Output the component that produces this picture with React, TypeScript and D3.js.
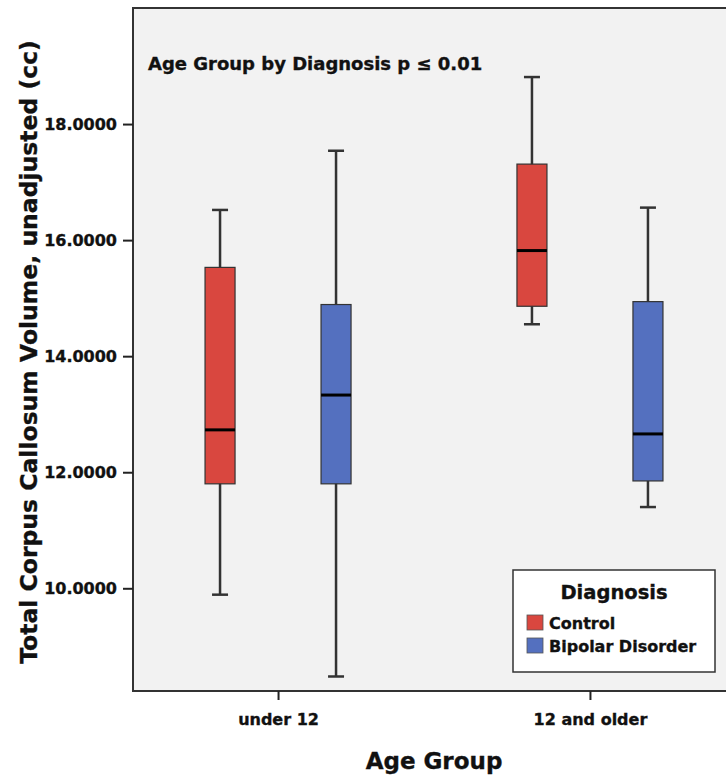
import React, { useEffect, useRef } from 'react';
import * as d3 from 'd3';

// age groups on the x axis, diagnoses inside each group
const ageGroups = ['under 12', '12 and older'];
const diagnoses = ['Control', 'Bipolar Disorder'];
const diagnosisColors = ['#d9473f', '#5470bf'];

// five-number summaries: [low whisker, q1, median, q3, high whisker]
const controlBoxes = [
  [9.89, 11.8, 12.73, 15.53, 16.52],
  [14.55, 14.86, 15.82, 17.31, 18.81],
];
const bipolarBoxes = [
  [8.48, 11.8, 13.33, 14.89, 17.54],
  [11.4, 11.85, 12.66, 14.94, 16.56],
];

const yTicks = [10, 12, 14, 16, 18];
const yTitle = 'Total Corpus Callosum Volume, unadjusted (cc)';
const xTitle = 'Age Group';
const note = 'Age Group by Diagnosis p \u2264 0.01';
const legendTitle = 'Diagnosis';

const FONT = '"DejaVu Sans", Verdana, sans-serif';

export default function App() {
  const ref = useRef<SVGSVGElement>(null);

  useEffect(() => {
    const plot = { left: 133, top: 8, right: 735, bottom: 691 };

    const svg = d3.select(ref.current);
    svg.selectAll('*').remove();

    const x = d3.scalePoint<string>().domain(ageGroups).range([plot.left, plot.right]).padding(0.465);
    const xInner = d3.scalePoint<string>().domain(diagnoses).range([-58, 58]);
    const y = d3.scaleLinear().domain([8.23, 20]).range([plot.bottom, plot.top]);
    const boxWidth = 30;
    const capWidth = 16;

    // small helper so every label gets the same heavy look
    const boldText = (sel: d3.Selection<SVGTextElement, unknown, null, undefined>, size: number) =>
      sel
        .attr('font-family', FONT)
        .attr('font-weight', 'bold')
        .attr('font-size', size)
        .attr('fill', '#111')
        .attr('stroke', '#111')
        .attr('stroke-width', 0.35);

    // plot background
    svg
      .append('rect')
      .attr('x', plot.left)
      .attr('y', plot.top)
      .attr('width', plot.right - plot.left)
      .attr('height', plot.bottom - plot.top)
      .attr('fill', '#f2f2f2')
      .attr('stroke', '#333')
      .attr('stroke-width', 2);

    // y axis
    const yAxis = svg
      .append('g')
      .attr('transform', `translate(${plot.left},0)`)
      .call(
        d3
          .axisLeft(y)
          .tickValues(yTicks)
          .tickFormat((d) => (d as number).toFixed(4))
          .tickSize(10)
          .tickPadding(6)
      );
    yAxis.select('.domain').remove();
    yAxis.selectAll('line').attr('stroke', '#222').attr('stroke-width', 2);
    yAxis
      .selectAll('text')
      .attr('fill', '#111')
      .attr('stroke', '#111')
      .attr('stroke-width', 0.35)
      .attr('font-family', FONT)
      .attr('font-weight', 'bold')
      .attr('font-size', 16);

    // x axis
    const xAxis = svg
      .append('g')
      .attr('transform', `translate(0,${plot.bottom})`)
      .call(d3.axisBottom(x).tickSize(9).tickPadding(14));
    xAxis.select('.domain').remove();
    xAxis.selectAll('line').attr('stroke', '#222').attr('stroke-width', 2);
    xAxis
      .selectAll('text')
      .attr('fill', '#111')
      .attr('stroke', '#111')
      .attr('stroke-width', 0.35)
      .attr('font-family', FONT)
      .attr('font-weight', 'bold')
      .attr('font-size', 16);

    // axis titles
    boldText(
      svg
        .append('text')
        .attr('transform', `translate(37,352) rotate(-90)`)
        .attr('text-anchor', 'middle'),
      23.5
    ).text(yTitle);
    boldText(
      svg.append('text').attr('x', 434).attr('y', 769).attr('text-anchor', 'middle'),
      23
    ).text(xTitle);

    // significance note
    boldText(svg.append('text').attr('x', 148).attr('y', 70), 18).text(note);

    // boxes
    const allBoxes = [controlBoxes, bipolarBoxes];
    diagnoses.forEach((diag, di) => {
      ageGroups.forEach((grp, gi) => {
        const [lo, q1, med, q3, hi] = allBoxes[di][gi];
        const cx = (x(grp) as number) + (xInner(diag) as number);
        const g = svg.append('g');
        g.append('line')
          .attr('x1', cx)
          .attr('x2', cx)
          .attr('y1', y(hi))
          .attr('y2', y(lo))
          .attr('stroke', '#333')
          .attr('stroke-width', 2.5);
        [lo, hi].forEach((v) => {
          g.append('line')
            .attr('x1', cx - capWidth / 2)
            .attr('x2', cx + capWidth / 2)
            .attr('y1', y(v))
            .attr('y2', y(v))
            .attr('stroke', '#333')
            .attr('stroke-width', 2.5);
        });
        g.append('rect')
          .attr('x', cx - boxWidth / 2)
          .attr('y', y(q3))
          .attr('width', boxWidth)
          .attr('height', y(q1) - y(q3))
          .attr('fill', diagnosisColors[di])
          .attr('stroke', '#333')
          .attr('stroke-width', 1.2);
        g.append('line')
          .attr('x1', cx - boxWidth / 2)
          .attr('x2', cx + boxWidth / 2)
          .attr('y1', y(med))
          .attr('y2', y(med))
          .attr('stroke', '#000')
          .attr('stroke-width', 3);
      });
    });

    // legend
    const legend = svg.append('g').attr('transform', 'translate(513,570)');
    legend
      .append('rect')
      .attr('width', 202)
      .attr('height', 102)
      .attr('fill', '#fff')
      .attr('stroke', '#333')
      .attr('stroke-width', 1.5);
    boldText(
      legend.append('text').attr('x', 101).attr('y', 29).attr('text-anchor', 'middle'),
      19.5
    ).text(legendTitle);
    diagnoses.forEach((diag, i) => {
      const row = legend.append('g').attr('transform', `translate(14,${45 + i * 23})`);
      row
        .append('rect')
        .attr('width', 16)
        .attr('height', 15)
        .attr('fill', diagnosisColors[i])
        .attr('stroke', '#555')
        .attr('stroke-width', 0.8);
      boldText(row.append('text').attr('x', 22).attr('y', 14), 16).text(diag);
    });
  }, []);

  return (
    <svg
      ref={ref}
      width={726}
      height={777}
      style={{ position: 'absolute', left: 0, top: 0, background: '#fff' }}
    />
  );
}
